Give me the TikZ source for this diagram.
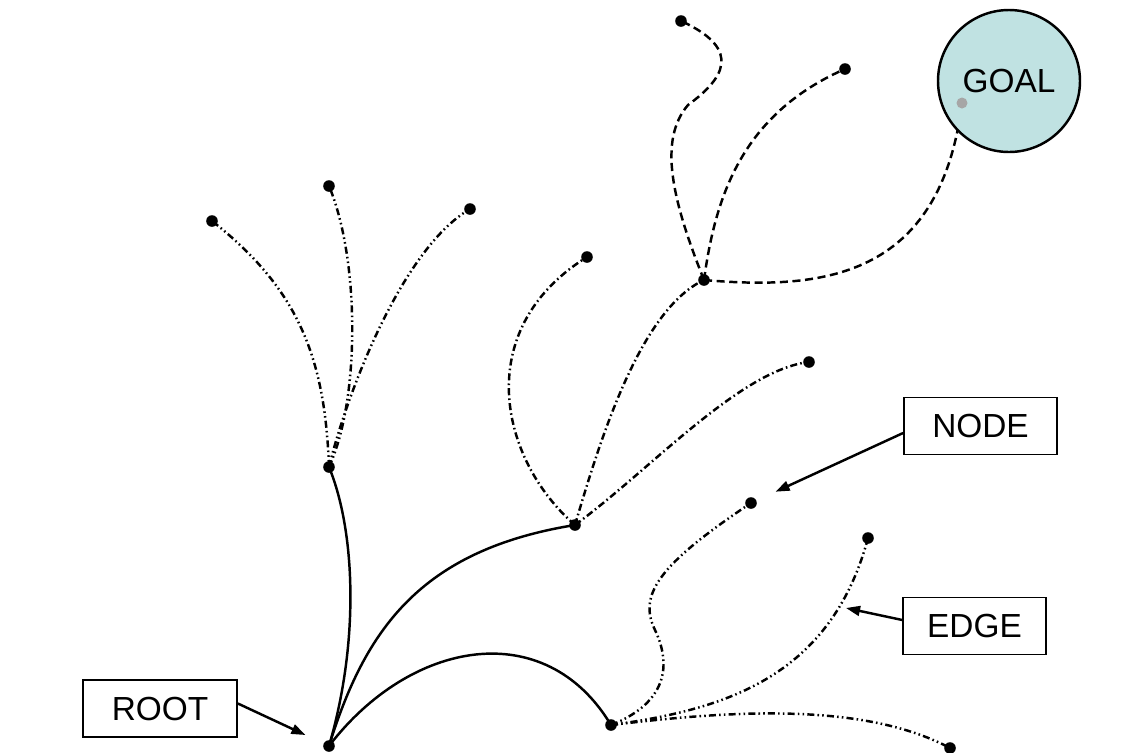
\documentclass[tikz,border=0pt]{standalone}
\usepackage{fontspec}
\setmainfont{Liberation Sans}
\usetikzlibrary{arrows.meta}
\definecolor{goalfill}{RGB}{192,226,226}
\begin{document}
\begin{tikzpicture}[line width=0.7pt,
  tag/.style={draw, line width=0.5pt, font=\fontsize{9.5}{11}\selectfont, inner xsep=0.24cm, minimum height=0.57cm},
  pointer/.style={-{Triangle[length=4pt,width=2.8pt]}},
  ddline/.style={dash pattern=on 2pt off 0.9pt on 0.45pt off 0.9pt on 0.45pt off 0.9pt},
  dline/.style={dash pattern=on 2pt off 0.9pt on 0.45pt off 0.9pt},
  kline/.style={dash pattern=on 2.3pt off 1.3pt}]
  \useasboundingbox (0,0) rectangle (11.45,7.52);
  \coordinate (root) at (3.29,0.06);
  \coordinate (n1) at (3.29,2.85);
  \coordinate (a1) at (2.12,5.31);
  \coordinate (a2) at (3.29,5.66);
  \coordinate (a3) at (4.70,5.43);
  \coordinate (n2) at (5.75,2.27);
  \coordinate (b1) at (5.87,4.95);
  \coordinate (hub) at (7.04,4.72);
  \coordinate (b3) at (8.09,3.90);
  \coordinate (c1) at (6.81,7.31);
  \coordinate (c2) at (8.45,6.83);
  \coordinate (g) at (9.62,6.49);
  \coordinate (n3) at (6.11,0.27);
  \coordinate (d1) at (7.51,2.49);
  \coordinate (d2) at (8.68,2.14);
  \coordinate (d3) at (9.50,0.04);
  % solid edges from the root
  \draw (root) .. controls (3.60,1.12) and (3.55,2.22) .. (n1);
  \draw (root) .. controls (3.65,1.22) and (4.20,2.02) .. (n2);
  \draw (root) .. controls (4.10,1.12) and (5.45,1.37) .. (n3);
  \draw [ddline] (n1) .. controls (3.25,3.92) and (3.00,4.62) .. (a1);
  \draw [ddline] (n1) .. controls (3.60,3.52) and (3.60,4.92) .. (a2);
  \draw [ddline] (n1) .. controls (3.45,3.52) and (4.00,5.02) .. (a3);
  \draw [dline] (n2) .. controls (5.00,2.92) and (4.70,4.22) .. (b1);
  \draw [dline] (n2) .. controls (6.00,3.12) and (6.40,4.42) .. (hub);
  \draw [dline] (n2) .. controls (6.50,2.82) and (7.40,3.82) .. (b3);
  \draw [kline] (hub) .. controls (6.72,5.52) and (6.58,6.12) .. (6.88,6.47)
    .. controls (7.22,6.72) and (7.45,7.02) .. (c1);
  \draw [kline] (hub) .. controls (7.15,5.52) and (7.40,6.37) .. (c2);
  \draw [kline] (hub) .. controls (8.20,4.62) and (9.40,4.72) .. (g);
  \draw [ddline] (n3) .. controls (6.62,0.47) and (6.74,0.82) .. (6.55,1.22)
    .. controls (6.38,1.57) and (6.58,1.87) .. (d1);
  \draw [ddline] (n3) .. controls (7.20,0.42) and (8.30,0.72) .. (d2);
  \draw [ddline] (n3) .. controls (7.20,0.40) and (8.60,0.52) .. (d3);
  \node [circle, draw, fill=goalfill, minimum size=1.42cm, inner sep=0pt, font=\fontsize{9.5}{11}\selectfont] (goal) at (10.09,6.71) {GOAL};
  \fill [gray!70] (g) circle [radius=.055];
  \foreach \p in {root,n1,a1,a2,a3,n2,b1,hub,b3,c1,c2,n3,d1,d2,d3}
    \fill (\p) circle [radius=.058];
  % labels
  \node [tag, minimum width=1.54cm] (lroot) at (1.60,0.435) {ROOT};
  \node [tag, minimum width=1.53cm] (lnode) at (9.805,3.26) {NODE};
  \node [tag] (ledge) at (9.745,1.26) {EDGE};
  \coordinate (edgetip) at (8.46,1.44);
  \draw [pointer, shorten >=0.26cm] ([yshift=0.5mm]lroot.east) -- (root);
  \draw [pointer, shorten >=0.27cm] ([yshift=-0.7mm]lnode.west) -- (d1);
  \draw [pointer] ([yshift=0.6mm]ledge.west) -- (edgetip);
\end{tikzpicture}
\end{document}
